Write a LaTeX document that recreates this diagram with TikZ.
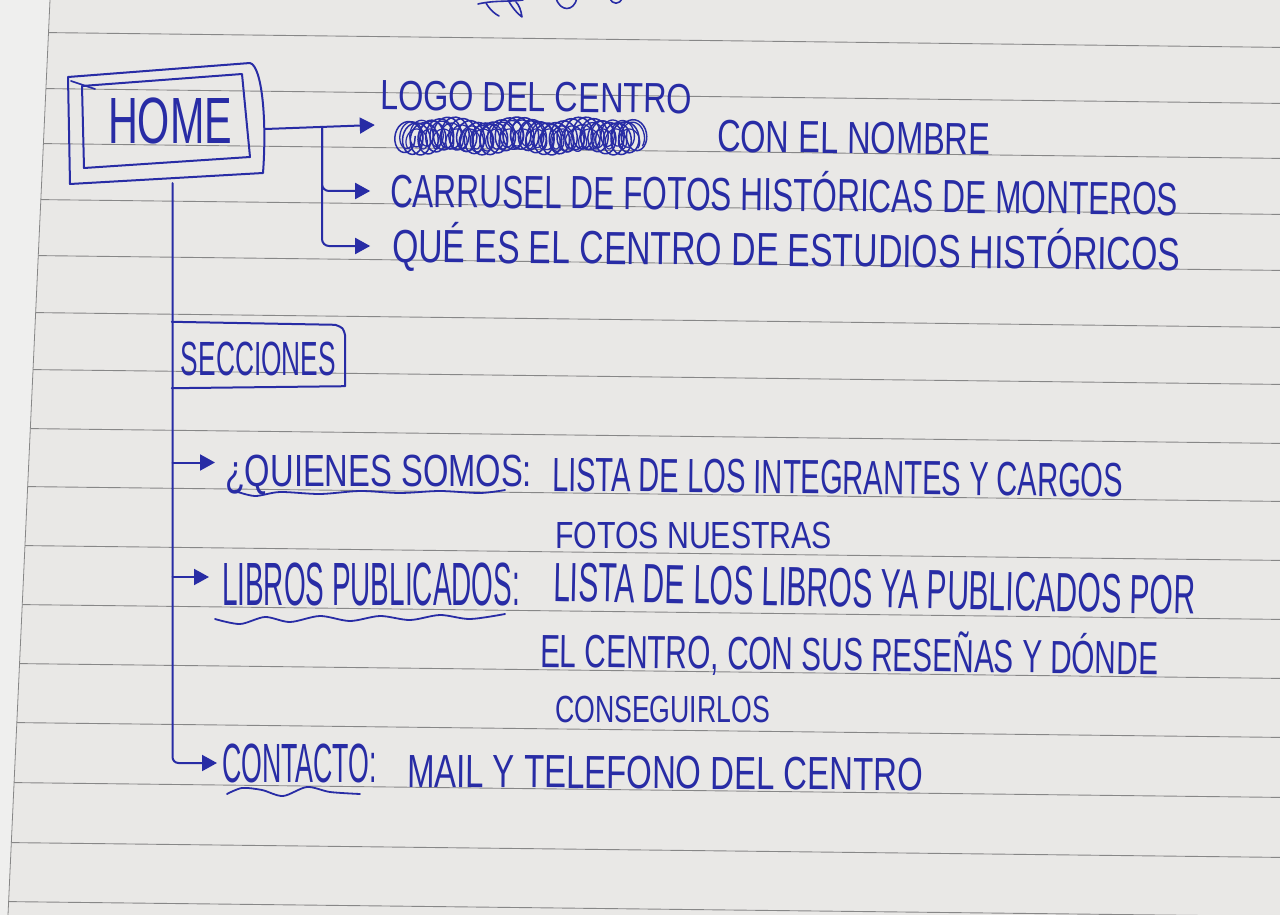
\documentclass[tikz,border=0pt]{standalone}
\usepackage{fontspec}
\setmainfont{Liberation Sans}
\usetikzlibrary{arrows.meta,calc}
\definecolor{ink}{RGB}{40,44,165}
\definecolor{paper}{RGB}{233,232,230}
\definecolor{rule}{RGB}{135,135,135}
\definecolor{pageedge}{RGB}{239,239,238}
% hand lettering: width, cap height, text
\newcommand\hw[3]{\resizebox{#1}{#2}{\raisebox{0pt}[\fontcharht\font`H][0pt]{#3}}}

\begin{document}
\begin{tikzpicture}[x=1pt,y=-1pt,
  inkline/.style={draw=ink, line width=2pt, line cap=round, line join=round},
  conn/.style={inkline, -{Triangle[length=15pt,width=16pt]}},
  hand/.style={inner sep=0pt, outer sep=0pt, text=ink, anchor=base west},
  wave/.style={draw=ink, line width=1.8pt, line cap=round},
  ruling/.style={draw=rule, line width=0.9pt}]

\useasboundingbox (0,0) rectangle (1280,915);

% notebook sheet
\fill[paper] (0,0) rectangle (1280,915);
\fill[pageedge] (0,0) -- (50,0) -- (8,915) -- (0,915) -- cycle;
\draw[rule, line width=0.8pt] (50,0) -- (8,915);
\foreach \y in {32,88,143,199,255,312,369,428,486,545,604,663,722,782,842,901}
  \draw[ruling] ({50-0.0459*\y},{\y+0.6}) -- (1280,{\y+15.4});

% fragment of writing cut off at the top edge
\begin{scope}
\clip (0,0) rectangle (1280,915);
\draw[inkline, line width=1.6pt] (478,4) .. controls (495,0) and (510,2) .. (523,0);
\draw[inkline, line width=1.6pt] (486,3) .. controls (490,10) and (495,14) .. (499,16);
\draw[inkline, line width=1.6pt] (507,-2) .. controls (512,8) and (518,14) .. (522,17) .. controls (521,10) and (519,5) .. (516,2);
\draw[inkline, line width=1.6pt] (556,-2) .. controls (560,12) and (574,12) .. (577,-2);
\draw[inkline, line width=1.6pt] (610,-2) .. controls (612,5) and (620,5) .. (622,-2);
\end{scope}

% HOME
\node[inner sep=0pt, minimum width=197pt, minimum height=120pt, text=ink,
      text height=45pt, text depth=5pt] (home) at (166.5,123)
  {\hspace*{7pt}\hw{124pt}{45pt}{HOME}};
\draw[inkline] (68,77) -- (250,63) .. controls (262,66) and (267,120) .. (263,173) -- (70,184) -- cycle;
\draw[inkline] (82,86) -- (242,74) -- (250,157) -- (84,168) -- cycle;
\draw[inkline, line width=1.6pt] (71,81) -- (95,89);

% first block: home page contents
\node[hand, rotate=-0.6] (logo) at (380,110) {\hw{312pt}{29pt}{LOGO DEL CENTRO}};
\node[inner sep=0pt, minimum width=256pt, minimum height=42pt] (tachado) at (520,135) {};
% crossed-out word: dense loops of ink
\draw[draw=ink, line width=1.5pt, line join=round]
  plot[domain=0:1, samples=800, smooth]
  ({403+236*\x + 12*cos(11000*\x)}, {136 + 16*sin(11000*\x) + 3*sin(1300*\x)});
\draw[draw=ink, line width=1.3pt, line join=round]
  plot[domain=0:1, samples=700, smooth]
  ({405+232*\x + 9*cos(8300*\x+40)}, {136 + 13*sin(8300*\x+40) - 3*sin(900*\x)});
\draw[draw=ink, line width=1.2pt, line join=round]
  plot[domain=0:1, samples=600, smooth]
  ({410+225*\x + 7*cos(6100*\x+90)}, {139 + 10*sin(6100*\x+90)});
\node[hand, rotate=-0.6] (nombre) at (717,152) {\hw{273pt}{31pt}{CON EL NOMBRE}};
\node[hand, rotate=-0.6] (carrusel) at (390,207) {\hw{788pt}{32pt}{CARRUSEL DE FOTOS HISTÓRICAS DE MONTEROS}};
\node[hand, rotate=-0.6] (que) at (392,262) {\hw{788pt}{32pt}{QUÉ ES EL CENTRO DE ESTUDIOS HISTÓRICOS}};

\coordinate (hub) at (322,127);
\draw[conn] ([yshift=-6pt]home.east) -- ([xshift=-17pt,yshift=10pt]tachado.west);
\draw[conn, rounded corners=7pt] (hub) |- ([xshift=-20pt]carrusel.west);
\draw[conn, rounded corners=7pt] (hub) |- ([xshift=-22pt]que.west);

% sections
\node[inner sep=0pt, minimum width=173pt, minimum height=65pt, text=ink,
      text height=41pt, text depth=0pt] (secc) at (258.5,354.5)
  {\hw{155pt}{33pt}{SECCIONES}};
\draw[inkline] (secc.north west) -- ([xshift=-10pt,yshift=-3pt]secc.north east)
  .. controls ([xshift=-2pt,yshift=-6pt]secc.north east) .. ([yshift=-14pt]secc.north east)
  -- ([yshift=1pt]secc.south east) -- ([yshift=-1pt]secc.south west);

\node[hand] (quienes) at (225,486) {\hw{307pt}{31pt}{¿QUIENES SOMOS:}};
\node[hand, rotate=-0.6] (quienesd) at (552,491) {\hw{571pt}{33pt}{LISTA DE LOS INTEGRANTES Y CARGOS}};
\node[hand] (fotos) at (555,548) {\hw{277pt}{26pt}{FOTOS NUESTRAS}};

\node[hand] (libros) at (222,605) {\hw{298pt}{42pt}{LIBROS PUBLICADOS:}};
\node[hand, rotate=-1.2] (librosd) at (553,601) {\hw{642pt}{38pt}{LISTA DE LOS LIBROS YA PUBLICADOS POR}};
\node[hand, rotate=-0.7] (librose) at (540,667) {\hw{618pt}{32pt}{EL CENTRO, CON SUS RESEÑAS Y DÓNDE}};
\node[hand] (consegui) at (555,722) {\hw{215pt}{26pt}{CONSEGUIRLOS}};

\node[hand] (contacto) at (222,782) {\hw{155pt}{38pt}{CONTACTO:}};
\node[hand, rotate=-0.4] (contactod) at (407,787) {\hw{516pt}{32pt}{MAIL Y TELEFONO DEL CENTRO}};

% spine from HOME down to the sections
\draw[conn, rounded corners=6pt] ([xshift=6pt]home.south) |- ([xshift=-5pt]contacto.west);
\draw[conn] ([xshift=6pt]home.south |- quienes.west) ++(0,-8) -- ([xshift=-10pt,yshift=8pt]quienes.west);
\draw[conn] ([xshift=6pt]home.south |- libros.west) ++(0,-7) -- ([xshift=-13pt,yshift=7pt]libros.west);

% wavy underlines of the section titles
\draw[wave] plot[smooth] coordinates {(235,491) (255,496) (280,492) (320,494) (360,491) (400,493) (440,491) (480,493) (505,490)};
\draw[wave] plot[smooth] coordinates {(215,619) (240,624) (265,617) (290,622) (320,616) (350,621) (380,616) (410,620) (440,615) (470,619) (505,614)};
\draw[wave] plot[smooth] coordinates {(227,794) (242,788) (262,790) (283,796) (307,787) (330,792) (360,794)};

\end{tikzpicture}
\end{document}
